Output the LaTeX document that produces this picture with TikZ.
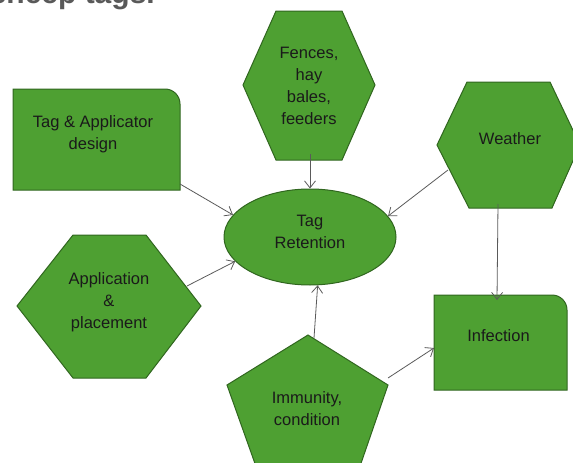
\documentclass[tikz,border=0pt]{standalone}
\usepackage{fontspec}
\setmainfont{Liberation Sans}
\usetikzlibrary{shapes.geometric,arrows.meta}
\definecolor{leaf}{HTML}{4EA032}
\definecolor{leafedge}{HTML}{30661F}
\definecolor{ink}{HTML}{1A1A1A}
\definecolor{wire}{HTML}{5A5A5A}
\definecolor{heading}{HTML}{595959}

\begin{document}
\begin{tikzpicture}[x=1pt,y=-1pt,
  shapefill/.style={fill=leaf,draw=leafedge,line width=1pt,line join=miter},
  txt/.style={font=\fontsize{16.5}{22}\selectfont,text=ink,align=center,inner sep=0pt},
  link/.style={draw=wire,line width=0.8pt,-{Straight Barb[length=7pt,width=11pt]}}]
\useasboundingbox (0,0) rectangle (573,463);
\clip (0,0) rectangle (573,463);

% heading line, mostly above the frame
\node[anchor=base east,font=\fontsize{30}{30}\selectfont\bfseries,text=heading,inner sep=0pt]
  (heading) at (155,3) {sheep tags.};

% Tag & Applicator design: box with one rounded corner
\path[shapefill] (13,190) -- (13,89) -- (165,89)
  .. controls (173.3,89) and (180,95.7) .. (180,104) -- (180,190) -- cycle;
\node[txt] (design) at (93,134) {Tag \& Applicator\\design};

% Fences, hay bales, feeders
\path[shapefill] (243,85) -- (276,11) -- (342,11) -- (375,85) -- (342,160) -- (276,160) -- cycle;
\node[txt] (fences) at (309,86) {Fences,\\hay\\bales,\\feeders};

% Weather
\path[shapefill] (437,145) -- (467,82) -- (550,82) -- (580,145) -- (552,208) -- (469,208) -- cycle;
\node[txt] (weather) at (510,138.5) {Weather};

% Tag Retention
\node[shapefill,ellipse,minimum width=172pt,minimum height=96pt,inner sep=0pt] (ret) at (310,237) {};
\node[txt] (retlabel) at (310,232) {Tag\\Retention};

% Application & placement
\path[shapefill] (17,306) -- (73,235) -- (146,235) -- (201,306) -- (146,378) -- (73,378) -- cycle;
\node[txt] (app) at (109,302) {Application\\\&\\placement};

% Immunity, condition
\path[shapefill] (308,335) -- (388,385) -- (358,472) -- (258,472) -- (227,385) -- cycle;
\node[txt] (immunity) at (307,409) {Immunity,\\condition};

% Infection: box with one rounded corner
\path[shapefill] (434,390) -- (434,295) -- (552,295)
  .. controls (560.3,295) and (567,301.7) .. (567,310) -- (567,390) -- cycle;
\node[txt] (infection) at (498.5,336) {Infection};

% connector ends
\coordinate (designout) at (180,184);
\coordinate (fencesout) at (310,154);
\coordinate (weatherleft) at (448,170);
\coordinate (weatherdown) at (498,204);
\coordinate (appout) at (187,286);
\coordinate (immtop) at (314,338);
\coordinate (immright) at (388,378);
\coordinate (infleft) at (434,348);
\coordinate (inftop) at (497,300);

% connectors
\draw[link] (designout) -- (ret.164);
\draw[link] (fencesout) -- (ret.north);
\draw[link] (weatherleft) -- (ret.15);
\draw[link] (appout) -- (ret.198);
\draw[link] (immtop) -- (ret.-81);
\draw[link] (immright) -- (infleft);
\draw[link] (weatherdown) -- (inftop);
\end{tikzpicture}
\end{document}
